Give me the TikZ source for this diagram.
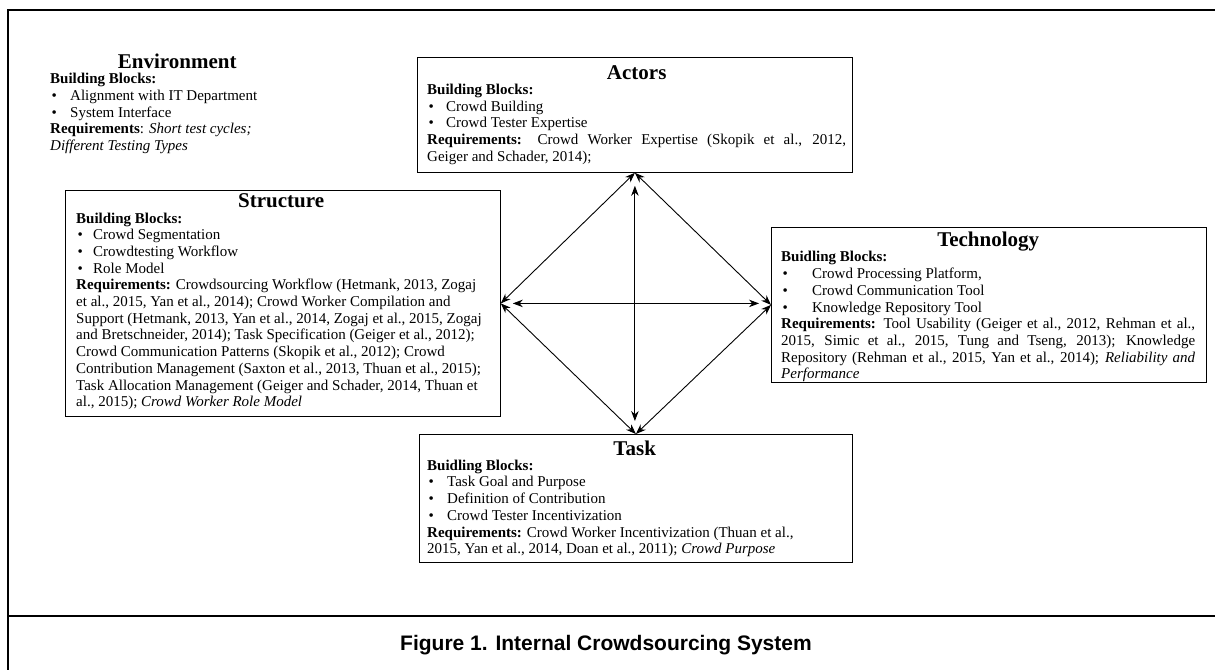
\documentclass[tikz,border=0pt]{standalone}
\usepackage{fontspec}
\setmainfont{Liberation Serif}
\newfontfamily\capfont{Liberation Sans}
\usetikzlibrary{arrows.meta}

\newcommand{\boxtitle}[2]{\makebox[#1]{\fontsize{21}{21}\selectfont\bfseries #2}}
\newcommand{\bitem}[2]{\makebox[#1][l]{\hspace{1.5pt}\textbullet}#2}
\newcommand{\jline}[2]{\makebox[#1][s]{#2}}

\begin{document}
\begin{tikzpicture}[
	x=1pt, y=-1pt,
	blockbox/.style={ draw, line width=0.8pt, inner sep=0pt, anchor=north west },
	blocktext/.style={ align=left, inner sep=0pt, anchor=north west, font=\fontsize{15}{16.7}\selectfont },
	link/.style={ <->, >={Stealth[length=10pt,width=7.5pt]}, line width=0.9pt }
]
\useasboundingbox (0,0) rectangle (1215,670);

% frame
\draw[line width=2pt] (1215,10) -- (8,10) -- (8,670);
\draw[line width=2pt] (8,616) -- (1215,616);

% boxes
\node[blockbox,minimum width=435pt,minimum height=115pt] (actors) at (417,57) {};
\node[blockbox,minimum width=435pt,minimum height=226pt] (structure) at (65,190) {};
\node[blockbox,minimum width=435pt,minimum height=155pt] (technology) at (771,227) {};
\node[blockbox,minimum width=433pt,minimum height=128pt] (task) at (419,434) {};

% texts
\node[blocktext] (environment) at (50,53.7) {%
  \boxtitle{254pt}{Environment}\\[-1.5pt]
  \textbf{Building Blocks:}\\
  \bitem{20pt}{Alignment with IT Department}\\
  \bitem{20pt}{System Interface}\\
  \textbf{Requirements}: \textit{Short test cycles;}\\
  \textit{Different Testing Types}};

\node[blocktext] (actors-text) at (427,65.3) {%
  \boxtitle{419pt}{Actors}\\[-1.5pt]
  \textbf{Building Blocks:}\\
  \bitem{19pt}{Crowd Building}\\
  \bitem{19pt}{Crowd Tester Expertise}\\
  \jline{419pt}{\textbf{Requirements:} Crowd Worker Expertise (Skopik et al., 2012,}\\
  Geiger and Schader, 2014);};

\node[blocktext] (structure-text) at (76,193.7) {%
  \boxtitle{410pt}{Structure}\\[-1.5pt]
  \textbf{Building Blocks:}\\
  \bitem{17pt}{Crowd Segmentation}\\
  \bitem{17pt}{Crowdtesting Workflow}\\
  \bitem{17pt}{Role Model}\\
  \textbf{Requirements:} Crowdsourcing Workflow (Hetmank, 2013, Zogaj\\
  et al., 2015, Yan et al., 2014); Crowd Worker Compilation and\\
  Support (Hetmank, 2013, Yan et al., 2014, Zogaj et al., 2015, Zogaj\\
  and Bretschneider, 2014); Task Specification (Geiger et al., 2012);\\
  Crowd Communication Patterns (Skopik et al., 2012); Crowd\\
  Contribution Management (Saxton et al., 2013, Thuan et al., 2015);\\
  Task Allocation Management (Geiger and Schader, 2014, Thuan et\\
  al., 2015); \textit{Crowd Worker Role Model}};

\node[blocktext] (technology-text) at (781,232) {%
  \boxtitle{414pt}{Technology}\\[-1.5pt]
  \textbf{Buidling Blocks:}\\
  \bitem{31pt}{Crowd Processing Platform,}\\
  \bitem{31pt}{Crowd Communication Tool}\\
  \bitem{31pt}{Knowledge Repository Tool}\\
  \jline{414pt}{\textbf{Requirements:} Tool Usability (Geiger et al., 2012, Rehman et al.,}\\
  \jline{414pt}{2015, Simic et al., 2015, Tung and Tseng, 2013); Knowledge}\\
  \jline{414pt}{Repository (Rehman et al., 2015, Yan et al., 2014); \textit{Reliability and}}\\
  \textit{Performance}};

\node[blocktext] (task-text) at (427,440.3) {%
  \boxtitle{415pt}{Task}\\[-1.5pt]
  \textbf{Buidling Blocks:}\\
  \bitem{20pt}{Task Goal and Purpose}\\
  \bitem{20pt}{Definition of Contribution}\\
  \bitem{20pt}{Crowd Tester Incentivization}\\
  \textbf{Requirements:} Crowd Worker Incentivization (Thuan et al.,\\
  2015, Yan et al., 2014, Doan et al., 2011); \textit{Crowd Purpose}};

% connectors
\draw[link] (actors.south) -- (structure.east);
\draw[link] (actors.south) -- (technology.west);
\draw[link] (structure.east) -- (task.north);
\draw[link] (technology.west) -- (task.north);
\draw[link,shorten <=13pt,shorten >=13pt] (actors.south) -- (actors.south |- task.north);
\draw[link,shorten <=12pt,shorten >=12pt] (structure.east) -- (structure.east -| technology.west);

\node[font=\capfont\bfseries\fontsize{21}{21}\selectfont] (caption) at (606,645)
  {Figure 1. Internal Crowdsourcing System};

\end{tikzpicture}
\end{document}
